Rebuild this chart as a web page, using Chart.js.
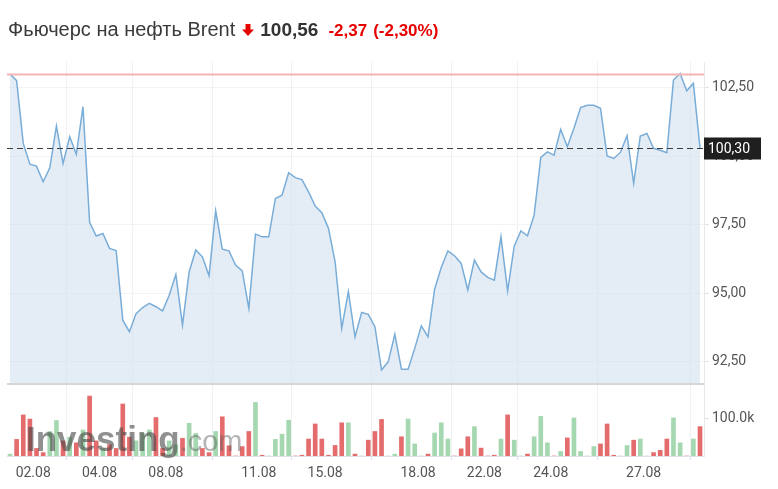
<!DOCTYPE html>
<html>
<head>
<meta charset="utf-8">
<script src="https://cdn.jsdelivr.net/npm/chart.js@4.4.0/dist/chart.umd.min.js"></script>
<style>
  html, body { margin: 0; padding: 0; background: #fff; }
  #wrap { position: relative; width: 778px; height: 489px; overflow: hidden; }
  #c { position: absolute; left: 0; top: 0; }
  #title { position: absolute; left: 8px; top: 18px; white-space: nowrap;
           font-family: "Liberation Sans", Arial, sans-serif; color: #3a3a3a; }
  #title span { vertical-align: baseline; }
  .name { font-size: 20px; }
  .last { font-size: 19px; font-weight: bold; color: #333; margin-left: 6px; }
  .chg { font-size: 17px; font-weight: bold; color: #e60000; margin-left: 10px; }
  .arrow { display: inline-block; margin-left: 7px; }
</style>
</head>
<body>
<div id="wrap">
  <canvas id="c" width="778" height="489"></canvas>
  <div id="title">
    <span class="name">Фьючерс на нефть Brent</span><svg class="arrow" width="12" height="12" viewBox="0 0 12 12"><path d="M3.5 0h5v5.5h3.5L6 12 0 5.5h3.5z" fill="#e60000"/></svg><span class="last">100,56</span><span class="chg">-2,37</span><span class="chg" style="margin-left:6px">(-2,30%)</span>
  </div>
</div>
<script>
// price points
const prices = [
  103.00, 102.76, 100.47, 99.71, 99.64, 99.07, 99.58, 101.10, 99.74, 100.71,
  100.07, 101.81, 97.59, 97.09, 97.18, 96.64, 96.56, 94.02, 93.60, 94.26,
  94.48, 94.63, 94.51, 94.36, 94.93, 95.69, 93.84, 95.78, 96.58, 96.33,
  95.64, 98.01, 96.61, 96.55, 96.03, 95.82, 94.45, 97.16, 97.06, 97.06,
  98.46, 98.58, 99.40, 99.22, 99.15, 98.70, 98.18, 97.94, 97.37, 96.15,
  93.72, 95.06, 93.41, 94.30, 94.23, 93.78, 92.20, 92.50, 93.50, 92.23,
  92.23, 92.99, 93.81, 93.41, 95.15, 95.94, 96.55, 96.37, 96.09, 95.12,
  96.21, 95.78, 95.58, 95.48, 97.06, 95.09, 96.72, 97.28, 97.10, 97.85,
  99.96, 100.16, 100.04, 100.98, 100.35, 101.02, 101.78, 101.86, 101.86, 101.75,
  100.01, 99.92, 100.14, 100.75, 99.01, 100.74, 100.83, 100.29, 100.22, 100.13,
  102.78, 103.02, 102.39, 102.66, 100.30
];

// volume, thousands
const volumes = [
  5, 44, 109, 98, 20, 9, 65, 94, 40, 50,
  35, 69, 159, 40, 20, 30, 20, 138, 50, 40,
  60, 69, 102, 20, 40, 30, 47, 87, 60, 20,
  9, 65, 104, 27, 0, 25, 65, 142, 2, 0,
  44, 58, 95, 0, 2, 45, 85, 45, 2, 28,
  88, 88, 5, 0, 42, 65, 97, 0, 5, 51,
  98, 32, 0, 5, 61, 88, 45, 0, 19, 51,
  78, 21, 0, 2, 45, 109, 42, 0, 5, 51,
  105, 35, 0, 12, 48, 101, 12, 0, 25, 32,
  85, 2, 0, 28, 42, 45, 0, 9, 15, 45,
  101, 35, 0, 45, 78
];

const tickAt = [3.5, 13.5, 23.5, 37.5, 47.5, 61.5, 71.5, 81.5, 95.5];
const tickLabels = ['02.08', '04.08', '08.08', '11.08', '15.08', '18.08', '22.08', '24.08', '27.08'];
const priceTicks = [92.5, 95, 97.5, 100, 102.5];
const volumeTicks = [100000];
const highValue = 102.98;
const lastValue = 100.30;

const volColors = prices.map((p, i) => (i > 0 && p < prices[i - 1]) ? '#e46c6c' : '#a5d8b0');

const overlay = {
  id: 'overlay',
  afterDraw(chart) {
    const { ctx, chartArea } = chart;
    const y = chart.scales.y;
    ctx.save();
    // panel separator
    ctx.strokeStyle = '#d6d6d6';
    ctx.lineWidth = 2;
    ctx.beginPath();
    ctx.moveTo(chartArea.left, y.bottom);
    ctx.lineTo(chartArea.right, y.bottom);
    ctx.stroke();
    // period high
    const hy = y.getPixelForValue(highValue);
    ctx.strokeStyle = '#f6b4b4';
    ctx.lineWidth = 2;
    ctx.beginPath();
    ctx.moveTo(chartArea.left, hy);
    ctx.lineTo(chartArea.right, hy);
    ctx.stroke();
    // last price
    const ly = Math.round(y.getPixelForValue(lastValue)) + 0.5;
    ctx.strokeStyle = '#3c3c3c';
    ctx.lineWidth = 1;
    ctx.setLineDash([6, 4]);
    ctx.beginPath();
    ctx.moveTo(chartArea.left, ly);
    ctx.lineTo(chartArea.right, ly);
    ctx.stroke();
    ctx.setLineDash([]);
    ctx.fillStyle = '#1f1f1f';
    ctx.fillRect(chartArea.right, ly - 11, 57, 22);
    ctx.fillStyle = '#fff';
    ctx.font = '14px Roboto';
    ctx.textBaseline = 'middle';
    ctx.fillText(lastValue.toFixed(2).replace('.', ','), chartArea.right + 4, ly + 1);
    // watermark
    ctx.filter = 'blur(0.7px)';
    ctx.textBaseline = 'alphabetic';
    ctx.font = 'bold 35px "Liberation Sans"';
    ctx.fillStyle = 'rgba(70,70,70,0.6)';
    ctx.fillText('Investing', 26, 451);
    const w = ctx.measureText('Investing').width;
    ctx.font = '29px "Liberation Sans"';
    ctx.fillStyle = 'rgba(90,90,90,0.45)';
    ctx.fillText('.com', 26 + w, 451);
    ctx.restore();
  }
};

const ctx = document.getElementById('c').getContext('2d');
const brentChart = new Chart(ctx, {
  type: 'bar',
  data: {
    datasets: [
      {
        type: 'line',
        data: prices.map((v, i) => ({ x: i, y: v })),
        yAxisID: 'y',
        borderColor: '#79add8',
        borderWidth: 1.5,
        backgroundColor: 'rgba(205,222,237,0.55)',
        fill: 'start',
        pointRadius: 0,
        tension: 0
      },
      {
        type: 'bar',
        data: volumes.map((v, i) => ({ x: i, y: v * 1000 })),
        yAxisID: 'yv',
        backgroundColor: volColors,
        barThickness: 4
      }
    ]
  },
  options: {
    responsive: false,
    animation: false,
    layout: { padding: { left: 7, top: 62, right: 0, bottom: 0 } },
    plugins: { legend: { display: false }, tooltip: { enabled: false } },
    scales: {
      x: {
        type: 'linear',
        min: -0.45,
        max: 104.6,
        offset: false,
        afterBuildTicks: s => { s.ticks = tickAt.map(v => ({ value: v })); },
        afterFit: s => { s.height = 33; },
        ticks: {
          callback: v => tickLabels[tickAt.indexOf(v)],
          font: { family: 'Roboto', size: 14 },
          color: '#555',
          padding: 5,
          maxRotation: 0,
          autoSkip: false
        },
        grid: { color: '#f1f1f1', tickLength: 4, tickColor: '#dfe3ea' },
        border: { color: '#dde2e9' }
      },
      y: {
        position: 'right',
        stack: 'panels',
        stackWeight: 322,
        min: 91.69,
        max: 103.44,
        afterBuildTicks: s => { s.ticks = priceTicks.map(v => ({ value: v })); },
        afterFit: s => { s.width = 74; },
        ticks: {
          callback: v => v.toFixed(2).replace('.', ','),
          font: { family: 'Roboto', size: 14 },
          color: '#555',
          padding: 3
        },
        grid: { color: '#f3f3f3', tickLength: 5, tickColor: '#e2e2e2' },
        border: { color: '#e8e8e8' }
      },
      yv: {
        position: 'right',
        stack: 'panels',
        stackWeight: 72,
        min: 0,
        max: 191000,
        afterBuildTicks: s => { s.ticks = volumeTicks.map(v => ({ value: v })); },
        afterFit: s => { s.width = 74; },
        ticks: {
          callback: v => (v / 1000).toFixed(1) + 'k',
          font: { family: 'Roboto', size: 14 },
          color: '#555',
          padding: 3
        },
        grid: { drawOnChartArea: false, tickLength: 5, tickColor: '#e2e2e2' },
        border: { color: '#e8e8e8' }
      }
    }
  },
  plugins: [overlay]
});
</script>
</body>
</html>
